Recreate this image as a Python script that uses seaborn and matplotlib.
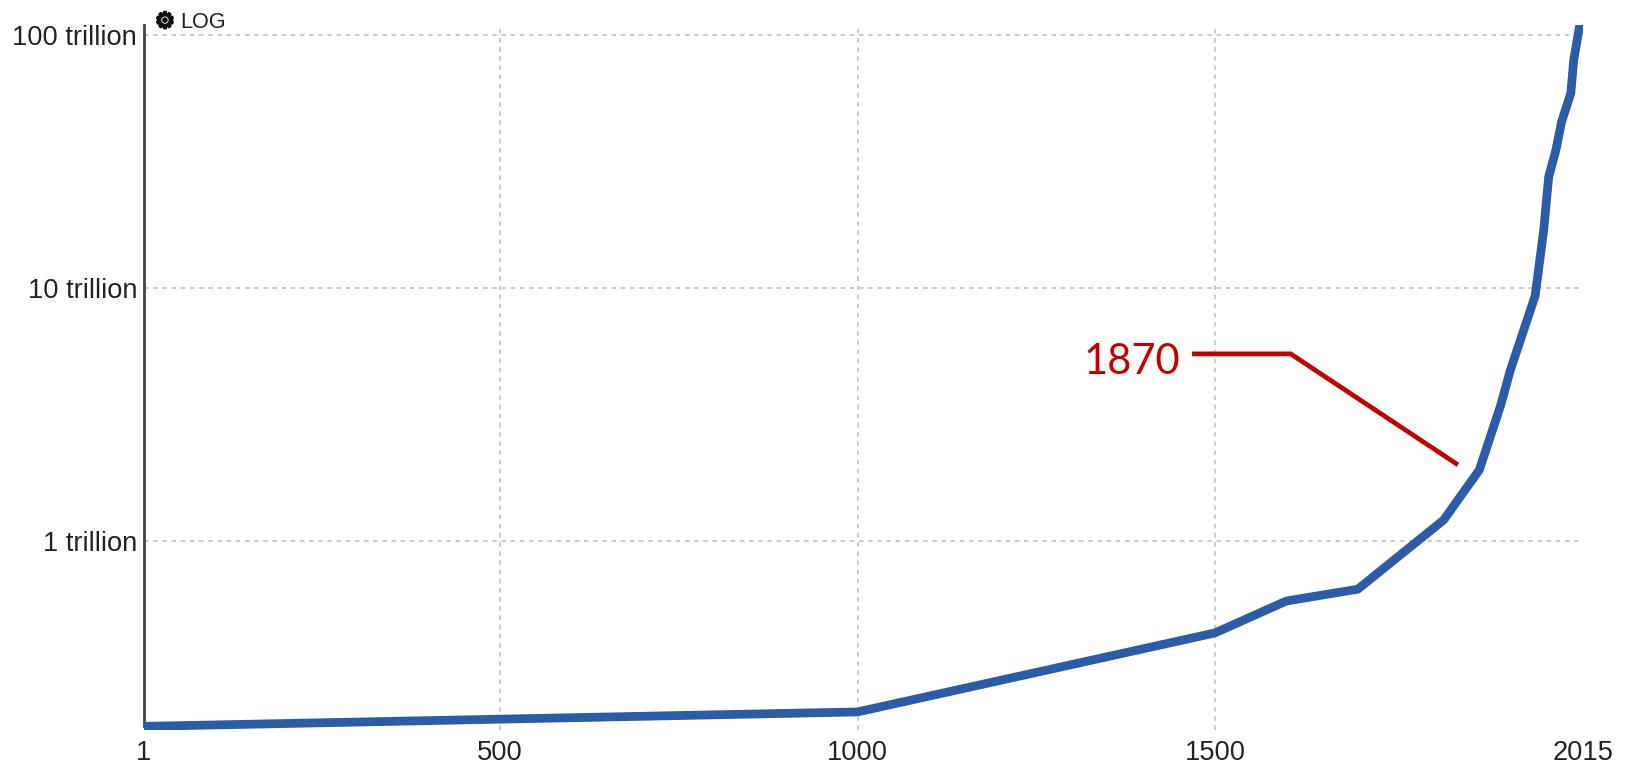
import matplotlib
matplotlib.use('Agg')
import matplotlib.pyplot as plt
import matplotlib.patheffects as pe
import seaborn as sns
import pandas as pd

# world gdp (trillions)
years = [1, 1000, 1500, 1600, 1700, 1820, 1870, 1900, 1913, 1948, 1960, 1967, 1977, 1985, 1998, 2002, 2010, 2015]
gdp_trillion = [0.185, 0.211, 0.433, 0.579, 0.645, 1.21, 1.91, 3.45, 4.7, 9.3, 16.9, 27.5, 35, 45.3, 59, 79.6, 107.5, 118]

y_ticks = [1, 10, 100]
y_labels = ['1 trillion', '10 trillion', '100 trillion']
x_ticks = [1, 500, 1000, 1500, 2015]

# leader line for the 1870 label
leader_years = [1468, 1606, 1840]
leader_values = [5.49, 5.49, 2.0]

sns.set_style('white')
plt.rcParams['font.family'] = ['Liberation Sans', 'DejaVu Sans']

W, H = 1627, 764
fig = plt.figure(figsize=(W / 100, H / 100), dpi=100)
ax = fig.add_axes([143.5 / W, 1 - 730 / H, (1583 - 143.5) / W, (730 - 25) / H])

df = pd.DataFrame({'year': years, 'gdp': gdp_trillion})
sns.lineplot(data=df, x='year', y='gdp', ax=ax, estimator=None, sort=False,
             color='#2c5ba8', linewidth=6.3, solid_joinstyle='round', solid_capstyle='butt', zorder=3)
ax.plot(leader_years, leader_values, color='#c00000', linewidth=3.4,
        solid_joinstyle='miter', solid_capstyle='butt', zorder=4)

ax.set_yscale('log')
ax.set_xlim(1, 2015)
ax.set_ylim(0.179, 109.5)
ax.set_xticks(x_ticks)
ax.set_yticks(y_ticks)
ax.set_yticklabels(y_labels)
ax.minorticks_off()
ax.set_xlabel('')
ax.set_ylabel('')
ax.tick_params(axis='both', length=0, labelsize=19.6, labelcolor='#222222')
ax.tick_params(axis='y', pad=4.5)
ax.tick_params(axis='x', pad=7)

ax.grid(True, color='#bcbcbc', linewidth=1.1, linestyle=(0, (3, 3)), zorder=1)
ax.set_axisbelow(True)
ax.get_xgridlines()[-1].set_visible(False)
ax.get_xgridlines()[0].set_visible(False)

sns.despine(ax=ax, top=True, right=True, bottom=True)
ax.spines['left'].set_color('#444444')
ax.spines['left'].set_linewidth(2)
ax.spines['left'].set_bounds(gdp_trillion[0], 109.5)

ax.text(1451, 5.12, '1870', color='#c00000', fontsize=30, family='Lato', ha='right', va='center')

gear = fig.text(155 / W, 1 - 22 / H, '\u2699', fontsize=16, family='DejaVu Sans', color='#111111',
                ha='left', va='center', fontweight='bold')
gear.set_path_effects([pe.withStroke(linewidth=1.6, foreground='#111111')])
fig.text(180 / W, 1 - 22.5 / H, 'LOG', fontsize=15.6, color='#222222', ha='left', va='center')

fig.savefig('out.png', dpi=100, facecolor='white')
